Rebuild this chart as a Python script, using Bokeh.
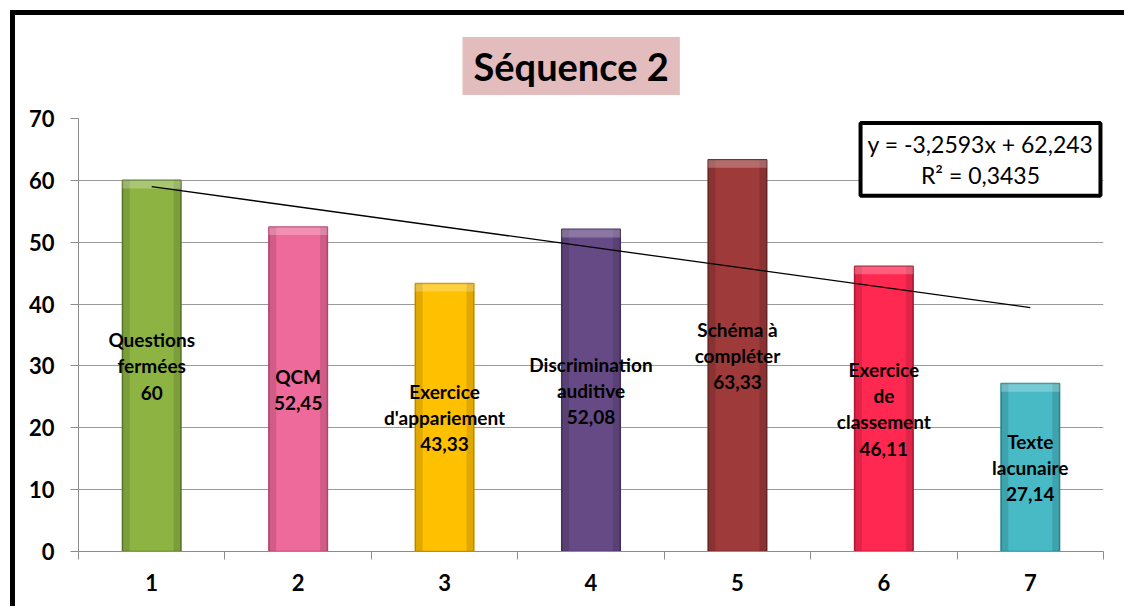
import numpy as np
from bokeh.plotting import figure
from bokeh.models import ColumnDataSource, FixedTicker, Label, Title
from bokeh.core.properties import value
from bokeh.embed import file_html
from bokeh.resources import INLINE

# Scores per exercise type (Séquence 2)
positions = [1, 2, 3, 4, 5, 6, 7]
scores = [60, 52.45, 43.33, 52.08, 63.33, 46.11, 27.14]
exercise_names = [
    "Questions\nfermées",
    "QCM",
    "Exercice\nd'appariement",
    "Discrimination\nauditive",
    "Schéma à\ncompléter",
    "Exercice\nde\nclassement",
    "Texte\nlacunaire",
]
bar_colors = ["#8DB443", "#EE6A9A", "#FFC000", "#664A86", "#9E3A3A", "#FF2850", "#48BAC6"]
edge_colors = ["#5F7D2A", "#B84A74", "#C99400", "#47325F", "#6E2626", "#B81A38", "#2E8A94"]
y_ticks = [0, 10, 20, 30, 40, 50, 60, 70]

FONT = "Lato"
BAR_W = 0.4


def fr(v, nd=None):
    s = f"{v:g}" if nd is None else f"{v:.{nd}f}"
    return s.replace(".", ",")


labels = [f"{n}\n{fr(v)}" for n, v in zip(exercise_names, scores)]

src = ColumnDataSource(dict(
    x=positions,
    top=scores,
    mid=[v / 2 for v in scores],
    cap=[v - 1.3 for v in scores],
    xl=[x - BAR_W / 2 + 0.025 for x in positions],
    xr=[x + BAR_W / 2 - 0.025 for x in positions],
    color=bar_colors,
    edge=edge_colors,
    label=labels,
))

p = figure(
    width=1114, height=596,
    x_range=(0.5, 7.5), y_range=(0, 70),
    output_backend="svg", toolbar_location=None,
    min_border_left=63, min_border_right=26,
    min_border_top=103, min_border_bottom=60,
    background_fill_color="white", border_fill_color="white",
)
p.outline_line_color = None
# heavy black frame on the top and left of the chart
p.margin = (10, 0, 0, 10)
p.styles = {"border-left": "5px solid black", "border-top": "5px solid black"}

# chart title on a pink plate
p.title = Title(
    text="Séquence 2", align="left", offset=384, standoff=43,
    vertical_align="top",
    text_font=FONT, text_font_style="bold", text_font_size="38px",
    text_color="black", background_fill_color="#E3BCBE",
    padding=dict(left=11, right=11, top=6, bottom=6),
)

# bars with a light bevel on top and shaded sides
p.vbar(x="x", top="top", bottom=0, width=BAR_W, source=src,
       fill_color="color", line_color="edge", line_width=1.5)
p.vbar(x="xl", top="top", bottom=0, width=0.05, source=src,
       fill_color="black", fill_alpha=0.12, line_color=None)
p.vbar(x="xr", top="top", bottom=0, width=0.05, source=src,
       fill_color="black", fill_alpha=0.12, line_color=None)
p.vbar(x="x", top="top", bottom="cap", width=BAR_W, source=src,
       fill_color="white", fill_alpha=0.25, line_color=None)

# labels centred inside each bar
p.text(x="x", y="mid", text="label", source=src,
       text_align="center", text_baseline="middle",
       text_font=value(FONT), text_font_style="bold",
       text_font_size="19px", text_line_height=1.14, text_color="black")

# linear trend line
slope, intercept = np.polyfit(positions, scores, 1)
fit = slope * np.array(positions) + intercept
ss_res = np.sum((np.array(scores) - fit) ** 2)
ss_tot = np.sum((np.array(scores) - np.mean(scores)) ** 2)
r2 = 1 - ss_res / ss_tot
p.line(x=[positions[0], positions[-1]], y=[fit[0], fit[-1]],
       line_color="black", line_width=1.3)

eq = (f"y = {fr(slope, 4)}x + {fr(intercept, 3)}\n"
      f"R² = {fr(r2, 4)}")
p.add_layout(Label(
    x=6.66, y=63.4, text=eq,
    text_align="center", text_baseline="middle",
    text_font=FONT, text_font_size="23px", text_line_height=1.1,
    text_color="black",
    background_fill_color="white",
    border_line_color="black", border_line_width=4,
    padding=7,
))

# axes
p.yaxis.ticker = FixedTicker(ticks=y_ticks)
p.yaxis.axis_line_color = "#8C8C8C"
p.yaxis.major_tick_line_color = "#8C8C8C"
p.yaxis.major_tick_out = 8
p.yaxis.major_tick_in = 0
p.yaxis.minor_tick_line_color = None
p.yaxis.major_label_standoff = 16
p.yaxis.major_label_text_font = FONT
p.yaxis.major_label_text_font_style = "bold"
p.yaxis.major_label_text_font_size = "22px"
p.yaxis.major_label_text_color = "black"

p.xaxis.ticker = FixedTicker(ticks=positions,
                             minor_ticks=[x - 0.5 for x in positions] + [positions[-1] + 0.5])
p.xaxis.axis_line_color = "#8C8C8C"
p.xaxis.major_tick_line_color = None
p.xaxis.major_tick_out = 8
p.xaxis.minor_tick_line_color = "#8C8C8C"
p.xaxis.minor_tick_out = 8
p.xaxis.minor_tick_in = 0
p.xaxis.major_label_standoff = 14
p.xaxis.major_label_text_font = FONT
p.xaxis.major_label_text_font_style = "bold"
p.xaxis.major_label_text_font_size = "22px"
p.xaxis.major_label_text_color = "black"

p.xgrid.grid_line_color = None
p.ygrid.ticker = FixedTicker(ticks=y_ticks)
p.ygrid.grid_line_color = "#9A9A9A"
p.ygrid.grid_line_width = 1

open("out.html", "w").write(file_html(p, INLINE))
